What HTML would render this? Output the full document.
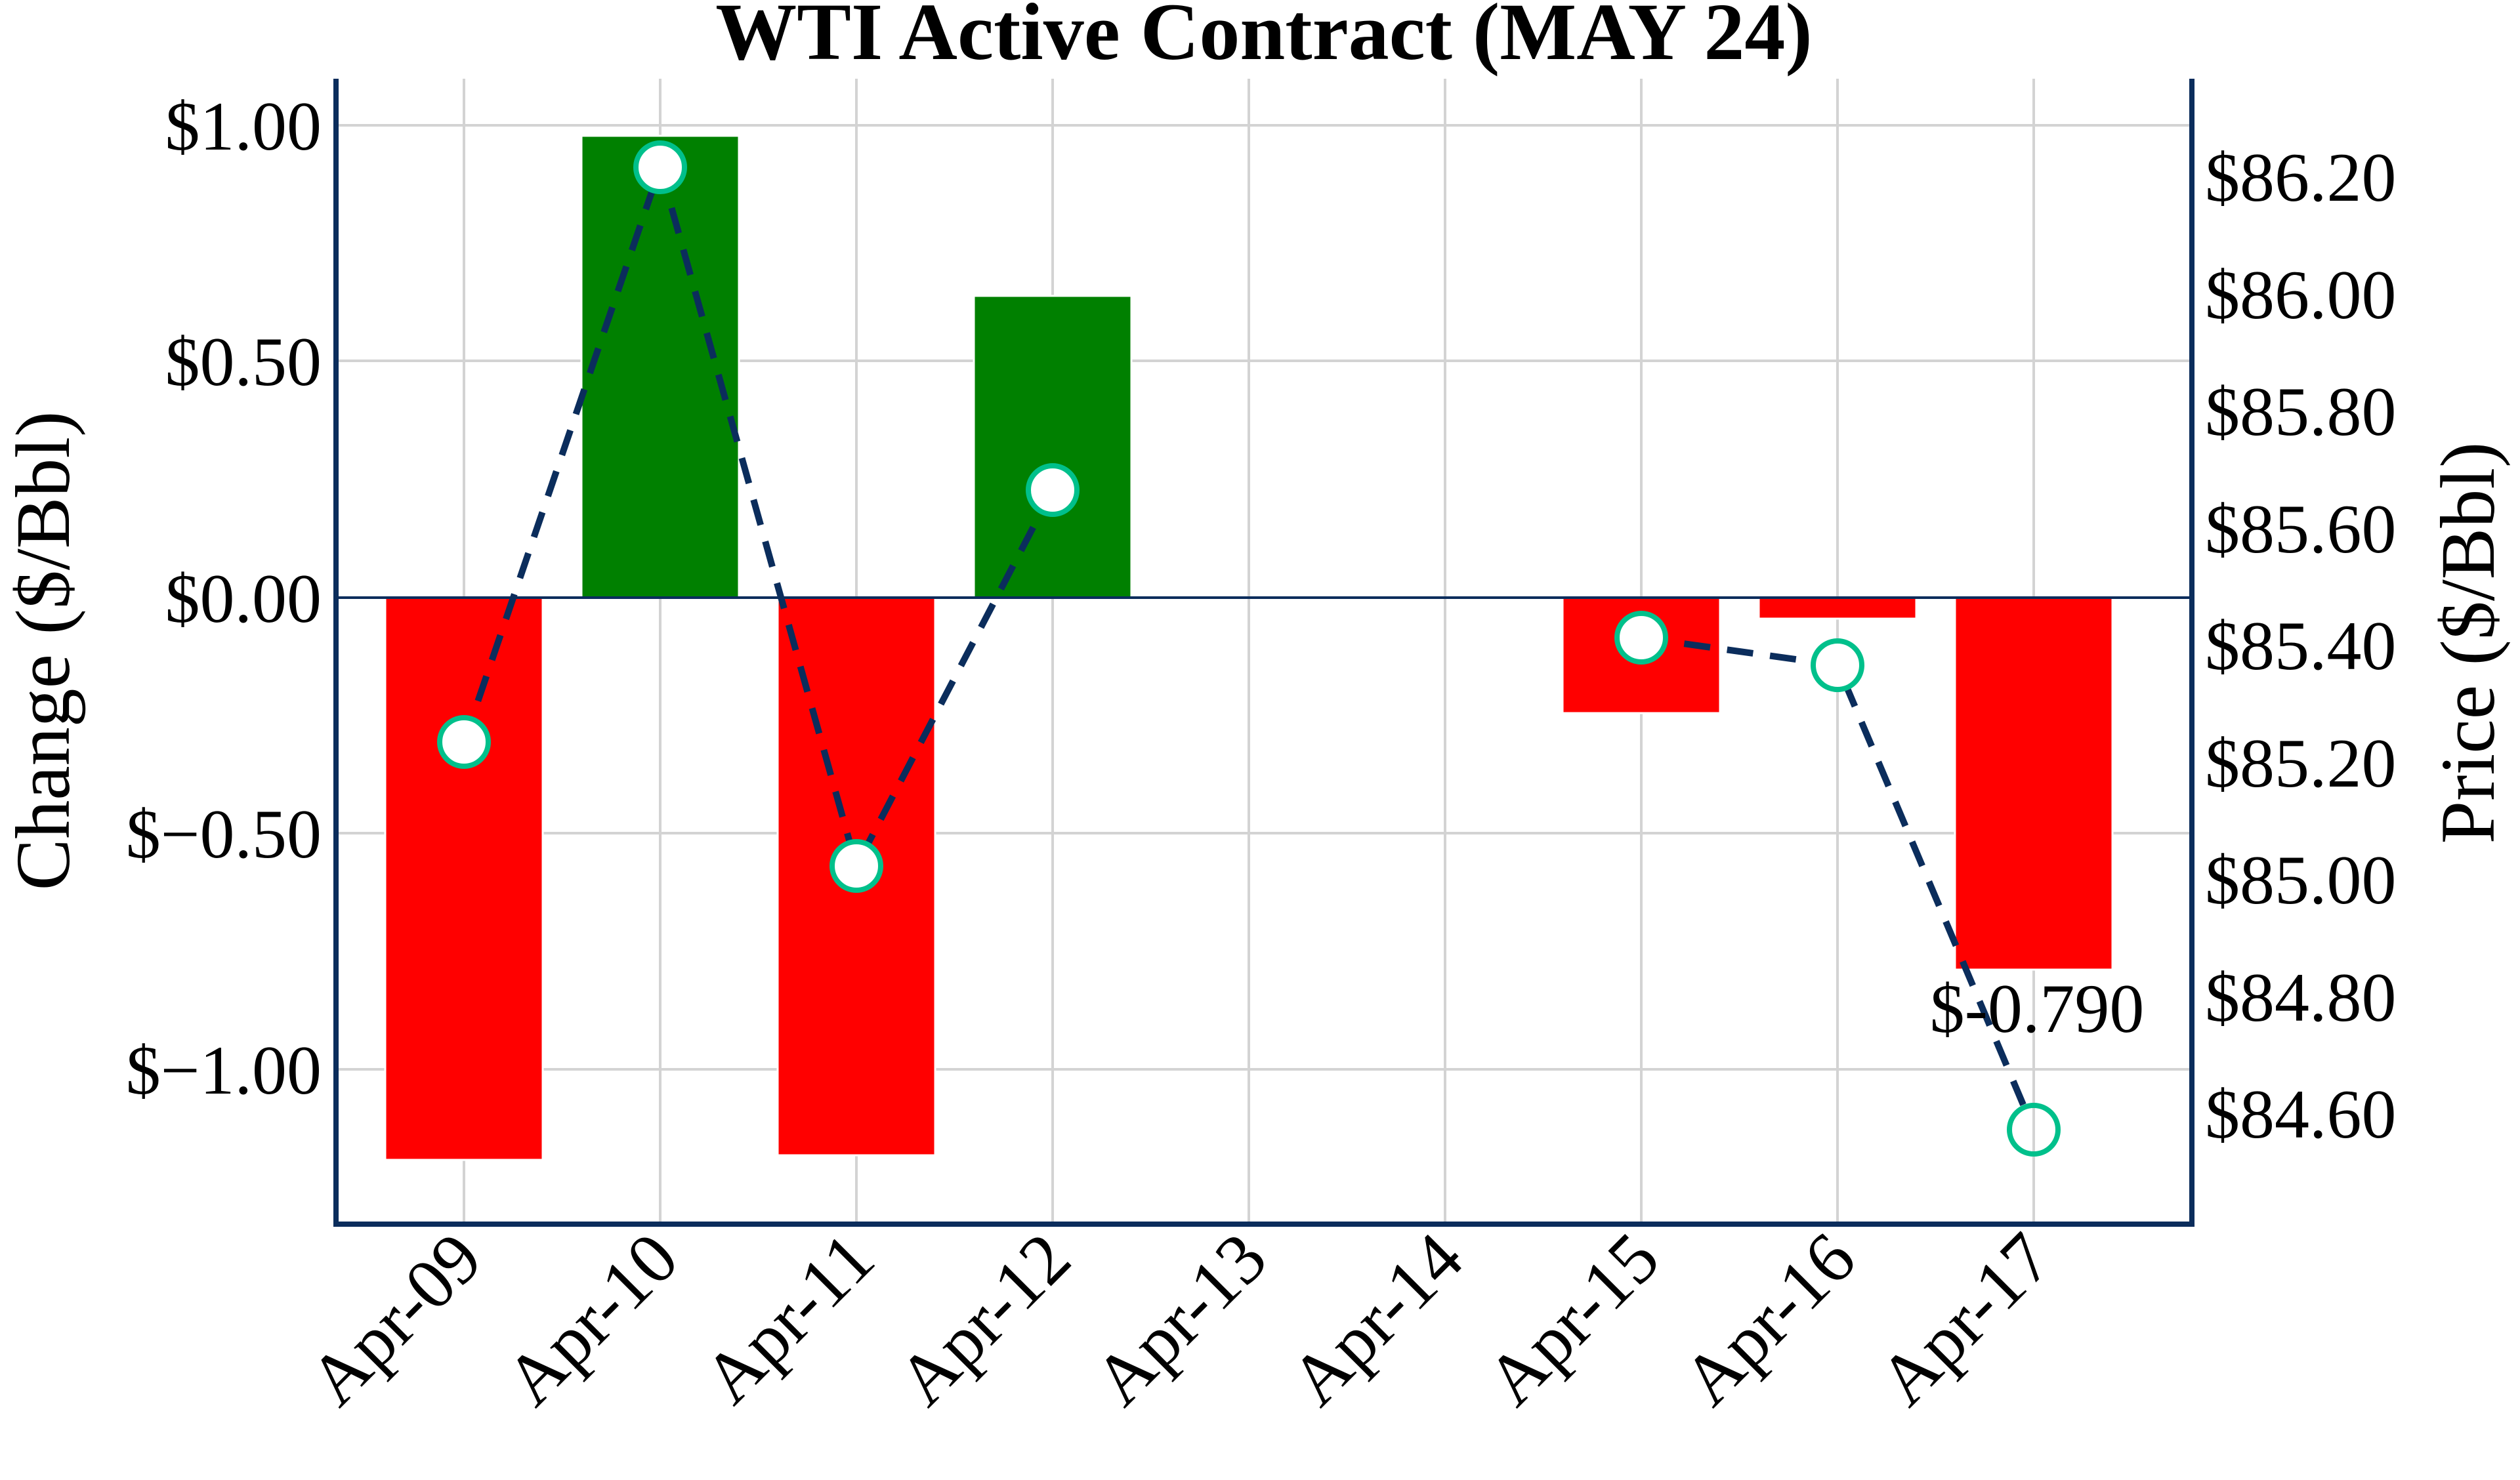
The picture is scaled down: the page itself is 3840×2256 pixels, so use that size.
<!DOCTYPE html>
<html><head><meta charset="utf-8"><style>
html,body{margin:0;padding:0;background:#fff;}
svg{display:block;font-family:"Liberation Serif",serif;}
</style></head><body>
<svg width="3840" height="2256" viewBox="0 0 3840 2256" xmlns="http://www.w3.org/2000/svg">
<rect width="3840" height="2256" fill="#fff"/>
<g stroke="#d3d3d3" stroke-width="4">
<line x1="707" y1="120" x2="707" y2="1866"/><line x1="1006" y1="120" x2="1006" y2="1866"/>
<line x1="1305" y1="120" x2="1305" y2="1866"/><line x1="1604" y1="120" x2="1604" y2="1866"/>
<line x1="1903" y1="120" x2="1903" y2="1866"/><line x1="2202" y1="120" x2="2202" y2="1866"/>
<line x1="2501" y1="120" x2="2501" y2="1866"/><line x1="2800" y1="120" x2="2800" y2="1866"/>
<line x1="3099" y1="120" x2="3099" y2="1866"/>
<line x1="512" y1="191" x2="3340" y2="191"/><line x1="512" y1="550" x2="3340" y2="550"/>
<line x1="512" y1="1270" x2="3340" y2="1270"/><line x1="512" y1="1630" x2="3340" y2="1630"/>
</g>
<g stroke="#fff" stroke-width="3">
<rect x="587" y="911" width="240" height="857" fill="#ff0000"/>
<rect x="886" y="207" width="240" height="704" fill="#008000"/>
<rect x="1185" y="911" width="240" height="850" fill="#ff0000"/>
<rect x="1484" y="451" width="240" height="460" fill="#008000"/>
<rect x="2381" y="911" width="240" height="176" fill="#ff0000"/>
<rect x="2680" y="911" width="240" height="32" fill="#ff0000"/>
<rect x="2979" y="911" width="240" height="567" fill="#ff0000"/>
</g>
<line x1="512" y1="911" x2="3340" y2="911" stroke="#0b2d5c" stroke-width="4"/>
<g fill="none" stroke="#0b2d5c" stroke-width="10" stroke-dasharray="40,26">
<polyline points="707,1131 1006,255 1305,1320 1604,747"/>
<polyline points="2501,972 2800,1014 3083,1684"/>
</g>
<g fill="#fff" stroke="#00c08b" stroke-width="8">
<circle cx="707" cy="1131" r="37"/><circle cx="1006" cy="255" r="37"/>
<circle cx="1305" cy="1320" r="37"/><circle cx="1604" cy="747" r="37"/>
<circle cx="2501" cy="972" r="37"/><circle cx="2800" cy="1014" r="37"/>
<circle cx="3099" cy="1722" r="37" fill="none"/>
</g>
<text x="3104" y="1573" font-size="106" text-anchor="middle">$-0.790</text>
<g stroke="#0b2d5c" stroke-width="8" fill="none">
<polyline points="512,120 512,1866 3340,1866 3340,120"/>
</g>
<text x="1926" y="90" font-size="124" font-weight="bold" text-anchor="middle">WTI Active Contract (MAY 24)</text>
<g font-size="106" text-anchor="end">
<text x="490" y="228">$1.00</text>
<text x="490" y="587">$0.50</text>
<text x="490" y="948">$0.00</text>
<text x="490" y="1307">$−0.50</text>
<text x="490" y="1667">$−1.00</text>
</g>
<g font-size="106" text-anchor="start">
<text x="3360" y="306">$86.20</text>
<text x="3360" y="485">$86.00</text>
<text x="3360" y="663">$85.80</text>
<text x="3360" y="842">$85.60</text>
<text x="3360" y="1020">$85.40</text>
<text x="3360" y="1199">$85.20</text>
<text x="3360" y="1377">$85.00</text>
<text x="3360" y="1556">$84.80</text>
<text x="3360" y="1734">$84.60</text>
</g>
<text transform="translate(105,992) rotate(-90)" font-size="118" text-anchor="middle">Change ($/Bbl)</text>
<text transform="translate(3800,980) rotate(-90)" font-size="118" text-anchor="middle">Price ($/Bbl)</text>
<g font-size="110" text-anchor="end">
<text transform="translate(740,1925) rotate(-45)">Apr-09</text>
<text transform="translate(1039,1925) rotate(-45)">Apr-10</text>
<text transform="translate(1338,1925) rotate(-45)">Apr-11</text>
<text transform="translate(1637,1925) rotate(-45)">Apr-12</text>
<text transform="translate(1936,1925) rotate(-45)">Apr-13</text>
<text transform="translate(2235,1925) rotate(-45)">Apr-14</text>
<text transform="translate(2534,1925) rotate(-45)">Apr-15</text>
<text transform="translate(2833,1925) rotate(-45)">Apr-16</text>
<text transform="translate(3132,1925) rotate(-45)">Apr-17</text>
</g>
</svg>
</body></html>
